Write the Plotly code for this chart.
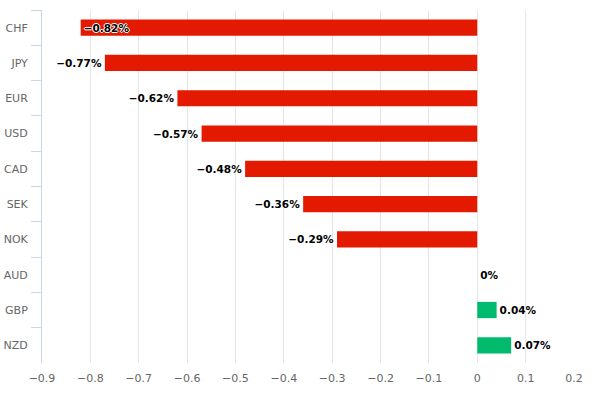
import plotly.graph_objects as go

currencies = ["CHF", "JPY", "EUR", "USD", "CAD", "SEK", "NOK", "AUD", "GBP", "NZD"]
changes = [-0.82, -0.77, -0.62, -0.57, -0.48, -0.36, -0.29, 0.0, 0.04, 0.07]
label_text = ["−0.82%", "−0.77%", "−0.62%", "−0.57%", "−0.48%", "−0.36%", "−0.29%", "0%", "0.04%", "0.07%"]

RED = "#e31a00"
GREEN = "#00bb6d"
colors = [RED if v < 0 else GREEN for v in changes]
positions = ["inside" if i == 0 else "outside" for i in range(len(changes))]

fig = go.Figure(go.Bar(
    x=changes,
    y=currencies,
    orientation="h",
    marker=dict(color=colors, line=dict(width=0)),
    width=0.46,
    text=label_text,
    textposition=positions,
    insidetextanchor="end",
    constraintext="none",
    cliponaxis=False,
    textfont=dict(family="DejaVu Sans", size=10.5, color="#000000", weight="bold",
                  shadow="1px 0 0 #fff, -1px 0 0 #fff, 0 1px 0 #fff, 0 -1px 0 #fff"),
    hoverinfo="skip",
))

fig.update_layout(
    width=609, height=398,
    margin=dict(l=42, r=35, t=10, b=35),
    paper_bgcolor="white", plot_bgcolor="white",
    showlegend=False,
    font=dict(family="DejaVu Sans", size=11, color="#666666"),
    xaxis=dict(
        range=[-0.9, 0.2], dtick=0.1, tick0=0,
        showgrid=True, gridcolor="#e6e6e6", gridwidth=1,
        zeroline=True, zerolinecolor="#e6e6e6", zerolinewidth=1,
        showline=False, ticks="", tickformat=".1~f",
        tickfont=dict(size=11, color="#666666"),
        ticklabelstandoff=7,
        automargin=False,
    ),
    yaxis=dict(
        autorange="reversed",
        showgrid=False, zeroline=False,
        showline=True, linecolor="#ccd6eb", linewidth=1,
        ticks="outside", tickson="boundaries", ticklen=10, tickcolor="#ccd6eb",
        tickfont=dict(size=11, color="#666666"),
        ticklabelstandoff=11,
        automargin=False,
    ),
)

fig.write_html("out.html", config={"displayModeBar": False},
               post_script="document.body.style.margin='0';")
